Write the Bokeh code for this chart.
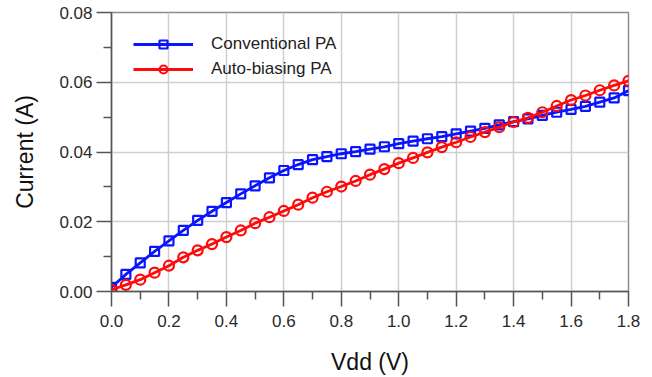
from bokeh.plotting import figure
from bokeh.models import Legend, LegendItem, FixedTicker, NumeralTickFormatter, Range1d
from bokeh.embed import file_html
from bokeh.resources import INLINE

vdd = [round(0.05 * i, 2) for i in range(37)]

conventional = [0.0012, 0.0049, 0.0082, 0.0115, 0.0145, 0.0175, 0.0204, 0.0230, 0.0255, 0.0280,
                0.0303, 0.0326, 0.0347, 0.0364, 0.0378, 0.0387, 0.0395, 0.0401, 0.0408, 0.0415,
                0.0424, 0.0431, 0.0438, 0.0444, 0.0452, 0.0460, 0.0468, 0.0478, 0.0487, 0.0495,
                0.0505, 0.0514, 0.0522, 0.0531, 0.0543, 0.0555, 0.0576]

auto_biasing = [0.0005, 0.0019, 0.0034, 0.0054, 0.0074, 0.0098, 0.0118, 0.0136, 0.0156, 0.0175,
                0.0196, 0.0213, 0.0231, 0.0249, 0.0269, 0.0286, 0.0301, 0.0317, 0.0335, 0.0351,
                0.0368, 0.0383, 0.0399, 0.0414, 0.0428, 0.0443, 0.0457, 0.0471, 0.0486, 0.0498,
                0.0514, 0.0532, 0.0549, 0.0562, 0.0577, 0.0591, 0.0604]

x_ticks = [0.0, 0.2, 0.4, 0.6, 0.8, 1.0, 1.2, 1.4, 1.6, 1.8]
y_ticks = [0.00, 0.02, 0.04, 0.06, 0.08]
x_minor = [0.1, 0.3, 0.5, 0.7, 0.9, 1.1, 1.3, 1.5, 1.7]
y_minor = [0.01, 0.03, 0.05, 0.07]

FONT = "Liberation Sans"

p = figure(frame_width=517, frame_height=279, output_backend="svg", toolbar_location=None,
           x_range=Range1d(0, 1.8), y_range=Range1d(0, 0.08),
           min_border_left=111, min_border_right=24, min_border_top=12, min_border_bottom=86,
           background_fill_color="white", border_fill_color="white")

p.outline_line_color = "#8c8c8c"
p.outline_line_width = 1.5

for ax in (p.xaxis[0], p.yaxis[0]):
    ax.axis_line_color = "#555555"
    ax.axis_line_width = 1.5
    ax.major_tick_line_color = "#555555"
    ax.minor_tick_line_color = "#555555"
    ax.major_tick_line_width = 1.5
    ax.minor_tick_line_width = 1.5
    ax.major_tick_out = 15
    ax.major_tick_in = 0
    ax.minor_tick_out = 8
    ax.minor_tick_in = 0
    ax.major_label_text_font = FONT
    ax.major_label_text_font_size = "17px"
    ax.major_label_text_color = "#2a2a2a"
    ax.axis_label_text_font = FONT
    ax.axis_label_text_font_size = "23px"
    ax.axis_label_text_font_style = "normal"
    ax.axis_label_text_color = "#111111"

p.xaxis[0].ticker = FixedTicker(ticks=x_ticks, minor_ticks=x_minor)
p.yaxis[0].ticker = FixedTicker(ticks=y_ticks, minor_ticks=y_minor)
p.xaxis[0].formatter = NumeralTickFormatter(format="0.0")
p.yaxis[0].formatter = NumeralTickFormatter(format="0.00")
p.xaxis[0].axis_label = "Vdd (V)"
p.yaxis[0].axis_label = "Current (A)"
p.xaxis[0].major_label_standoff = 8
p.yaxis[0].major_label_standoff = 4
p.xaxis[0].axis_label_standoff = 19
p.yaxis[0].axis_label_standoff = 18

p.xgrid.grid_line_color = "#cfcfcf"
p.ygrid.grid_line_color = "#cfcfcf"
p.xgrid.grid_line_width = 1.5
p.ygrid.grid_line_width = 1.5

BLUE = "#0a14ff"
RED = "#ff0a0a"

l1 = p.line(vdd, conventional, line_color=BLUE, line_width=2.8)
s1 = p.scatter(vdd, conventional, marker="square", size=9, line_color=BLUE, line_width=2.2,
               fill_color=None)
l2 = p.line(vdd, auto_biasing, line_color=RED, line_width=2.8)
s2 = p.scatter(vdd, auto_biasing, marker="circle", size=10, line_color=RED, line_width=2.2,
               fill_color=None)

legend = Legend(items=[LegendItem(label="Conventional PA", renderers=[l1, s1]),
                       LegendItem(label="Auto-biasing PA", renderers=[l2, s2])],
                location="top_left", margin=14, padding=8, spacing=5,
                glyph_width=60, glyph_height=20, label_standoff=18,
                label_text_font=FONT, label_text_font_size="17px", label_text_color="#222222",
                border_line_alpha=0, background_fill_alpha=0)
p.add_layout(legend)

open("out.html", "w").write(file_html(p, INLINE))
